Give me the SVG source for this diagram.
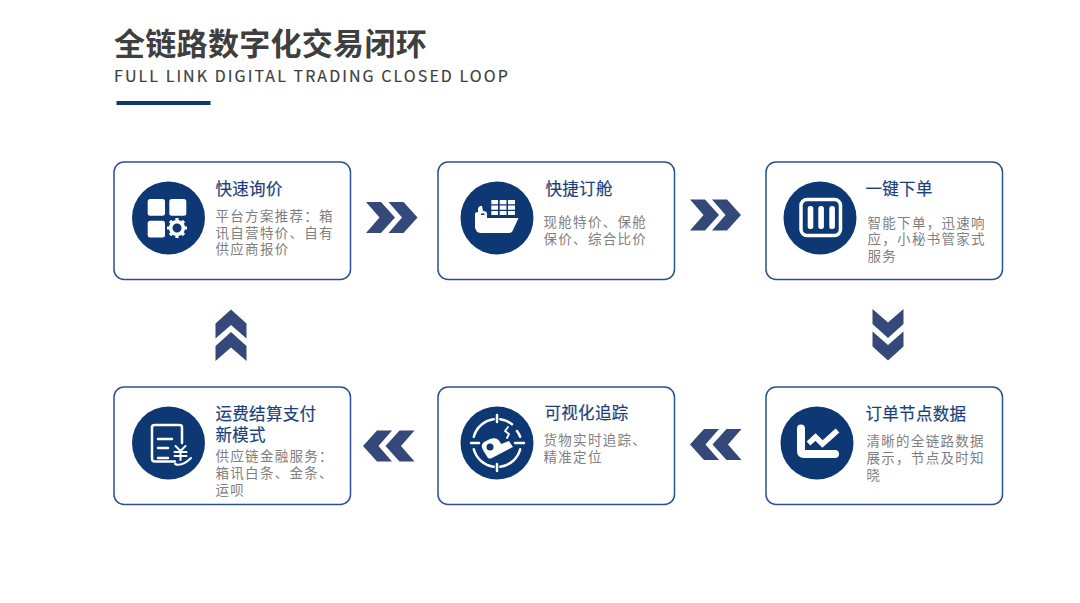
<svg xmlns="http://www.w3.org/2000/svg" width="1080" height="603" viewBox="0 0 1080 603">
<style>
text{font-family:"Noto Sans CJK SC","Noto Sans",sans-serif}
.h{font-size:31px;font-weight:700;fill:#3f3f3f;letter-spacing:.3px}
.s{font-size:16px;fill:#3f3f3f;stroke:#3f3f3f;stroke-width:.2px;letter-spacing:2.06px}
.t{font-size:16.500px;fill:#1b3f7c;stroke:#1b3f7c;stroke-width:.2px;letter-spacing:.3px}
.b{font-size:13.500px;fill:#7f7f7f;letter-spacing:1.300px}
.card{fill:#fff;stroke:#2a5190;stroke-width:1.500}
.disc{fill:#0e3873}
.w{fill:#fff}
.l{fill:none;stroke:#fff;stroke-width:2.500;stroke-linecap:round;stroke-linejoin:round}
.chev{fill:#34497a}
</style>
<defs>
<path id="cr" d="M0 0H15L29 15.500 15 31H0L13.500 15.500Z"/>
</defs>
<rect width="1080" height="603" fill="#fff"/>
<g id="header">
<text class="h" x="114" y="55">全链路数字化交易闭环</text>
<text class="s" x="114" y="82">FULL LINK DIGITAL TRADING CLOSED LOOP</text>
<rect x="116.500" y="101" width="94" height="4" fill="#0e3873"/>
</g>
<g id="connectors" class="chev">
<g id="c1"><use href="#cr" x="366" y="202"/><use href="#cr" x="388.500" y="202"/></g>
<g id="c2"><use href="#cr" x="690" y="199.500"/><use href="#cr" x="712" y="199.500"/></g>
<g id="c3"><use href="#cr" transform="translate(903.500 309) rotate(90)"/><use href="#cr" transform="translate(903.500 331.500) rotate(90)"/></g>
<g id="c4"><use href="#cr" transform="translate(741.500 460) rotate(180)"/><use href="#cr" transform="translate(719 460) rotate(180)"/></g>
<g id="c5"><use href="#cr" transform="translate(414.500 461.500) rotate(180)"/><use href="#cr" transform="translate(392 461.500) rotate(180)"/></g>
<g id="c6"><use href="#cr" transform="translate(215.500 361) rotate(-90)"/><use href="#cr" transform="translate(215.500 338.500) rotate(-90)"/></g>
</g>
<g id="node1">
<rect class="card" x="114" y="162" width="236.500" height="117.500" rx="10"/>
<circle class="disc" cx="168.500" cy="218" r="36.500"/>
<rect class="w" x="147.700" y="199" width="17.300" height="16.700" rx="2.500"/>
<rect class="w" x="169.300" y="199" width="17" height="16.700" rx="2.500"/>
<rect class="w" x="147.700" y="220.700" width="17.300" height="16.700" rx="2.500"/>
<circle cx="177" cy="228" r="6.300" fill="none" stroke="#fff" stroke-width="3.500"/>
<path d="M177 218V221M177 235V238M167 228H170M184 228H187M170 221L172 223M182 233L184 235M184 221L182 223M172 233L170 235" stroke="#fff" stroke-width="3.200" fill="none"/>
<text class="t" x="215.500" y="195">快速询价</text>
<text class="b"><tspan x="215.500" y="221">平台方案推荐：箱</tspan><tspan x="215.500" y="237.500">讯自营特价、自有</tspan><tspan x="215.500" y="254">供应商报价</tspan></text>
</g>
<g id="node2">
<rect class="card" x="438" y="162" width="236.500" height="117.500" rx="10"/>
<circle class="disc" cx="497" cy="218" r="36.500"/>
<path class="w" d="M491.300 200H498V204.300H491.300ZM499.700 200H506.500V204.300H499.700ZM508 200H515V204.300H508ZM491.300 205.500H498V209.800H491.300ZM499.700 205.500H506.500V209.800H499.700ZM508 205.500H515V209.800H508ZM491.300 211H498V215H491.300ZM499.700 211H506.500V215H499.700ZM508 211H515V215H508Z"/>
<path class="w" d="M475 228V214Q475 212 478 212V208L480 206H482L483 211Q487 211 487 214V218H518.500L513 230Q512 233 509 233H481Q477 233 476 230Z"/>
<rect x="481" y="213.500" width="3.500" height="1.500" class="disc"/>
<text class="t" x="545.500" y="195">快捷订舱</text>
<text class="b"><tspan x="543.500" y="226.500">现舱特价、保舱</tspan><tspan x="543.500" y="244">保价、综合比价</tspan></text>
</g>
<g id="node3">
<rect class="card" x="766" y="162" width="236.500" height="117.500" rx="10"/>
<circle class="disc" cx="820" cy="218" r="36.500"/>
<rect x="801" y="199.500" width="39.500" height="36" rx="6" fill="none" stroke="#fff" stroke-width="3.500"/>
<rect class="w" x="807.700" y="206" width="5.600" height="23" rx="2.500"/>
<rect class="w" x="818.300" y="206" width="5.600" height="23" rx="2.500"/>
<rect class="w" x="829.300" y="206" width="5.600" height="23" rx="2.500"/>
<text class="t" x="865.500" y="195">一键下单</text>
<text class="b"><tspan x="867.500" y="227.500">智能下单，迅速响</tspan><tspan x="867.500" y="244">应，小秘书管家式</tspan><tspan x="867.500" y="261">服务</tspan></text>
</g>
<g id="node4">
<rect class="card" x="766" y="387" width="236.500" height="117.500" rx="10"/>
<circle class="disc" cx="817" cy="443" r="36.500"/>
<path d="M801 428.500V451Q801 454 804 454H835" fill="none" stroke="#fff" stroke-width="8" stroke-linecap="round"/>
<path d="M808.500 443.500L815.500 437L822.500 444L837.500 430.500" fill="none" stroke="#fff" stroke-width="5.500"/>
<text class="t" x="865.500" y="420">订单节点数据</text>
<text class="b"><tspan x="866.500" y="446">清晰的全链路数据</tspan><tspan x="866.500" y="462.500">展示，节点及时知</tspan><tspan x="866.500" y="480">晓</tspan></text>
</g>
<g id="node5">
<rect class="card" x="438" y="387" width="236.500" height="117.500" rx="10"/>
<circle class="disc" cx="497" cy="443" r="36.500"/>
<path class="l" d="M473.800 436.800A24 24 0 0 1 493.700 419.200M500.300 419.200A24 24 0 0 1 512 424.300M517 431A24 24 0 0 1 520.200 436.800M520.200 449.200A24 24 0 0 1 500.300 466.800M493.700 466.800A24 24 0 0 1 473.800 449.200"/>
<path class="l" d="M497 415V422M497 464V471M471 443H479M515 443H524"/>
<path class="w" d="M484 442Q480 445 483 450L488 458Q490 459 492 458L513 447L509 441L501 444Q498 436 490 439Z"/>
<circle class="disc" cx="490" cy="447" r="3.500"/>
<path class="l" style="stroke-width:1.800" d="M507 438L509 434L505 431L508 427"/>
<text class="t" x="544.500" y="419">可视化追踪</text>
<text class="b"><tspan x="543.500" y="444.500">货物实时追踪、</tspan><tspan x="543.500" y="461.500">精准定位</tspan></text>
</g>
<g id="node6">
<rect class="card" x="114" y="387" width="236.500" height="117.500" rx="10"/>
<circle class="disc" cx="168.500" cy="443" r="36.500"/>
<path class="l" d="M175 461.500H155Q152 461.500 152 458.500V427Q152 425 155 425H179Q182 425 182 427V443"/>
<path class="l" d="M158 439H172M158 448H168M158 458H168"/>
<path class="l" style="stroke-width:2" d="M175.500 446L180.500 451L185.500 446M174.500 452H186.500M174.500 456H186.500M180.500 451V460M175 464Q182 467 191 458"/>
<text class="t"><tspan x="215.500" y="420">运费结算支付</tspan><tspan x="215.500" y="441">新模式</tspan></text>
<text class="b"><tspan x="215.500" y="461">供应链金融服务：</tspan><tspan x="215.500" y="478">箱讯白条、金条、</tspan><tspan x="215.500" y="495">运呗</tspan></text>
</g>
</svg>
